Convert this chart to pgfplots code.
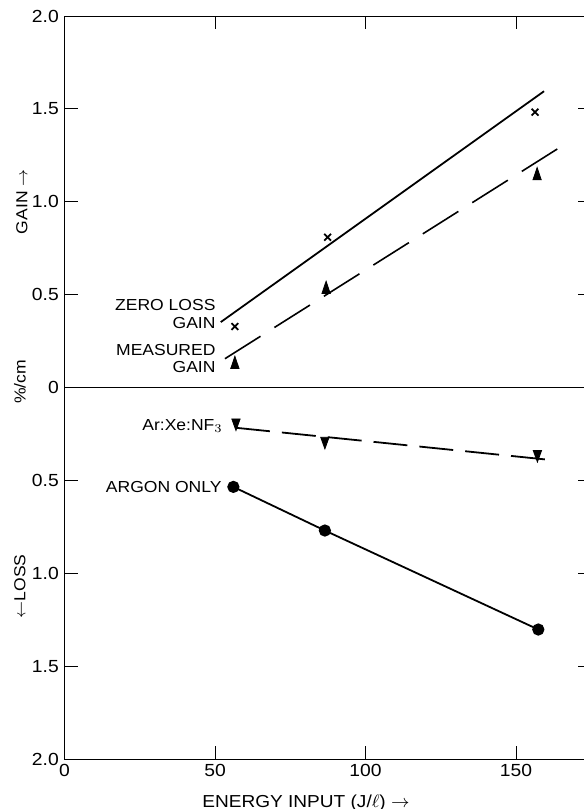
\documentclass[border=0pt]{standalone}
\usepackage{pgfplots}
\pgfplotsset{compat=1.18}
\usepackage{fontspec}
\setmainfont{Liberation Sans}[FakeStretch=1.1]
\begin{document}
\fontsize{8}{9}\selectfont
\begin{tikzpicture}
\begin{axis}[
  scale only axis, width=263.4bp, height=371.5bp,
  xmin=0, xmax=175, ymin=-2, ymax=2,
  xtick={0,50,100,150}, xticklabels={0,50,100,150},
  ytick={-2,-1.5,-1,-0.5,0,0.5,1,1.5,2},
  yticklabels={2.0,1.5,1.0,0.5,0,0.5,1.0,1.5,2.0},
  tick align=inside, major tick length=6.5bp,
  tick style={black, line width=0.5pt},
  axis line style={line width=0.5pt},
  /pgf/number format/assume math mode=true,
  ticklabel style={font=\fontsize{8.8}{10}\selectfont},
  clip=false,
]
% zero line
\addplot[line width=0.7pt] coordinates {(0,0) (175,0)};
% zero loss gain fit line and points
\addplot[line width=0.9pt] coordinates {(51.9,0.352) (159.3,1.595)};
\addplot[only marks, mark=x, mark size=2.4bp, line width=0.9pt] coordinates {(56.6,0.328) (87.4,0.809) (156.3,1.482)};
% measured gain fit line and points
\addplot[line width=0.8pt, dash pattern=on 21bp off 8.25bp] coordinates {(53.3,0.155) (163.7,1.284)};
\addplot[only marks, mark=triangle*, mark size=2.4bp, mark options={yscale=1.7}] coordinates {(56.6,0.124) (86.9,0.528) (157,1.14)};
% Ar:Xe:NF3 loss
\addplot[line width=0.9pt, dash pattern=on 17bp off 6.03bp] coordinates {(57,-0.217) (159.6,-0.387)};
\addplot[only marks, mark=triangle*, mark size=2.4bp, mark options={yscale=-1.6}] coordinates {(56.96,-0.19) (86.5,-0.289) (157.1,-0.36)};
% argon only loss
\addplot[line width=0.9pt, mark=*, mark size=2.6bp] coordinates {(56.1,-0.535) (86.5,-0.770) (157.4,-1.303)};
% labels
\node[anchor=east, align=right, inner sep=0pt] at (axis cs:50.3,0.398) {ZERO LOSS\\GAIN};
\node[anchor=east, align=right, inner sep=0pt] at (axis cs:50.3,0.156) {MEASURED\\GAIN};
\node[anchor=base east, inner sep=0pt] at (axis cs:52.7,-0.231) {Ar:Xe:NF$_3$};
\node[anchor=base east, inner sep=0pt] at (axis cs:52.3,-0.565) {ARGON ONLY};
\node[rotate=90] at ([xshift=-21.25bp]axis cs:0,1.0) {GAIN $\rightarrow$};
\node[rotate=90] at ([xshift=-22.25bp]axis cs:0,0.03) {\%/cm};
\node[rotate=90] at ([xshift=-22.25bp]axis cs:0,-1.07) {$\leftarrow$LOSS};
\node[font=\fontsize{8.7}{10}\selectfont] at ([yshift=-22bp]axis cs:80.2,-2) {ENERGY INPUT (J/$\ell$) $\rightarrow$};
\end{axis}
\pgfresetboundingbox
\path ([xshift=-32.25bp,yshift=-25bp]current axis.south west) rectangle ([xshift=-3.65bp,yshift=8bp]current axis.north east);
\end{tikzpicture}
\end{document}
